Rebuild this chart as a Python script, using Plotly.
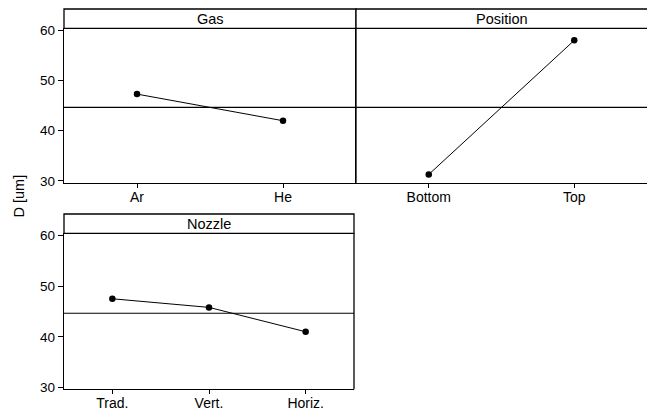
import plotly.graph_objects as go

# Main effects of each factor on mean diameter D
gas_levels = ["Ar", "He"]
gas_means = [47.3, 42.0]

position_levels = ["Bottom", "Top"]
position_means = [31.3, 58.0]

nozzle_levels = ["Trad.", "Vert.", "Horiz."]
nozzle_means = [47.5, 45.8, 41.0]

grand_mean = 44.65
y_ticks = [30, 40, 50, 60]
y_range = [29.66, 60.4]

W, H = 647, 412
FONT = "Liberation Sans, Arial, sans-serif"


def px(x):
    return x / W


def py(y):
    return 1 - y / H


fig = go.Figure()

panels = [
    # name, levels, means, left, right, strip top, data top, data bottom, right border
    ("Gas", gas_levels, gas_means, 64, 356, 9, 28.3, 182.7, True),
    ("Position", position_levels, position_means, 356, 647, 9, 28.3, 182.7, False),
    ("Nozzle", nozzle_levels, nozzle_means, 64, 354, 214, 233.3, 389.3, True),
]

shapes = []
annotations = []
for i, (name, levels, means, x0, x1, st, dt, db, rborder) in enumerate(panels, start=1):
    xa = "xaxis" if i == 1 else f"xaxis{i}"
    ya = "yaxis" if i == 1 else f"yaxis{i}"
    xr = "x" if i == 1 else f"x{i}"
    yr = "y" if i == 1 else f"y{i}"
    n = len(levels)
    fig.add_trace(go.Scatter(
        x=list(range(n)), y=means, xaxis=xr, yaxis=yr,
        mode="lines+markers",
        line=dict(color="black", width=1),
        marker=dict(color="black", size=6.5),
        showlegend=False, hoverinfo="skip",
    ))
    fig.update_layout(**{
        xa: dict(
            domain=[px(x0), min(px(x1), 1.0)], anchor=yr,
            range=[-0.5, n - 0.5], automargin=False,
            tickmode="array", tickvals=list(range(n)), ticktext=levels,
            ticks="outside", ticklen=4, tickcolor="black", tickwidth=1,
            ticklabelstandoff=-3,
            showline=True, linecolor="black", linewidth=1.3, mirror=False,
            showgrid=False, zeroline=False, fixedrange=True,
            tickfont=dict(family=FONT, size=14, color="black"),
        ),
        ya: dict(
            domain=[py(db), py(dt)], anchor=xr,
            range=y_range, automargin=False,
            tickmode="array", tickvals=y_ticks,
            showticklabels=(name != "Position"),
            ticks="" if name == "Position" else "outside",
            ticklen=5, tickcolor="black", tickwidth=1,
            showline=True, linecolor="black", linewidth=1.3, mirror=False,
            showgrid=False, zeroline=False, fixedrange=True,
            tickfont=dict(family=FONT, size=13.5, color="black"),
        ),
    })
    # grand mean reference line
    shapes.append(dict(type="line", xref=f"{xr} domain", yref=yr,
                       x0=0, x1=1, y0=grand_mean, y1=grand_mean,
                       line=dict(color="black", width=1.1)))
    # strip with panel title
    right = x1 if rborder else x1 + 5
    shapes.append(dict(type="rect", xref="paper", yref="paper",
                       x0=px(x0), x1=px(right), y0=py(dt), y1=py(st),
                       line=dict(color="black", width=1.3), fillcolor="white"))
    if rborder:
        shapes.append(dict(type="line", xref="paper", yref="paper",
                           x0=px(x1), x1=px(x1), y0=py(db), y1=py(dt),
                           line=dict(color="black", width=1.3)))
    annotations.append(dict(text=name, xref="paper", yref="paper",
                            x=px((x0 + x1) / 2), y=py((st + dt) / 2),
                            showarrow=False, xanchor="center", yanchor="middle",
                            font=dict(family=FONT, size=14.5, color="black")))

annotations.append(dict(text="D [um]", xref="paper", yref="paper",
                        x=px(18.5), y=py(196), textangle=-90,
                        showarrow=False, xanchor="center", yanchor="middle",
                        font=dict(family=FONT, size=14.5, color="black")))

fig.update_layout(
    width=W, height=H,
    margin=dict(l=0, r=0, t=0, b=0, pad=0, autoexpand=False),
    paper_bgcolor="white", plot_bgcolor="white",
    shapes=shapes, annotations=annotations,
    showlegend=False,
)

fig.write_html("out.html")
